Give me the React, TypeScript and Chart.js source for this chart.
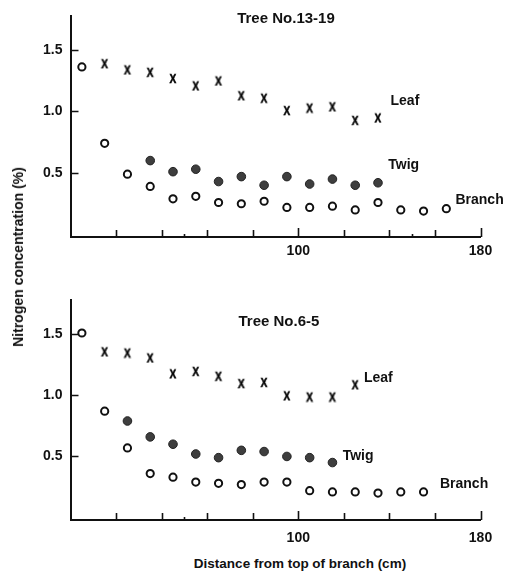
import React, { useEffect, useRef } from 'react';
import { Chart, registerables } from 'chart.js';

Chart.register(...registerables);

const FONT = '"Liberation Sans", Arial, Helvetica, sans-serif';
Chart.defaults.font.family = FONT;

// ---------- Data: Tree No.13-19 (top) ----------
const topBranchX = [5, 15, 25, 35, 45, 55, 65, 75, 85, 95, 105, 115, 125, 135, 145, 155, 165];
const topBranchY = [1.36, 0.74, 0.49, 0.39, 0.29, 0.31, 0.26, 0.25, 0.27, 0.22, 0.22, 0.23, 0.20, 0.26, 0.20, 0.19, 0.21];
const topLeafX = [15, 25, 35, 45, 55, 65, 75, 85, 95, 105, 115, 125, 135];
const topLeafY = [1.39, 1.34, 1.32, 1.27, 1.21, 1.25, 1.13, 1.11, 1.01, 1.03, 1.04, 0.93, 0.95];
const topTwigX = [35, 45, 55, 65, 75, 85, 95, 105, 115, 125, 135];
const topTwigY = [0.60, 0.51, 0.53, 0.43, 0.47, 0.40, 0.47, 0.41, 0.45, 0.40, 0.42];

// ---------- Data: Tree No.6-5 (bottom) ----------
const botBranchX = [5, 15, 25, 35, 45, 55, 65, 75, 85, 95, 105, 115, 125, 135, 145, 155];
const botBranchY = [1.51, 0.87, 0.57, 0.36, 0.33, 0.29, 0.28, 0.27, 0.29, 0.29, 0.22, 0.21, 0.21, 0.20, 0.21, 0.21];
const botLeafX = [15, 25, 35, 45, 55, 65, 75, 85, 95, 105, 115, 125];
const botLeafY = [1.36, 1.35, 1.31, 1.18, 1.20, 1.16, 1.10, 1.11, 1.00, 0.99, 0.99, 1.09];
const botTwigX = [25, 35, 45, 55, 65, 75, 85, 95, 105, 115];
const botTwigY = [0.79, 0.66, 0.60, 0.52, 0.49, 0.55, 0.54, 0.50, 0.49, 0.45];

// ---------- Axis ticks ----------
const xTickLabels = [100, 180];
const xMajorTicks = [20, 40, 60, 80, 100, 120, 140, 160, 180];
const topMinorTicks = [50, 150];
const botMinorTicks = [50];
const yTickValues = [0.5, 1.0, 1.5];

// ---------- Texts ----------
const topTitle = 'Tree No.13-19';
const botTitle = 'Tree No.6-5';
const yAxisTitle = 'Nitrogen concentration (%)';
const xAxisTitle = 'Distance from top of branch (cm)';

const INK = '#111';

function zip(xs: number[], ys: number[]) {
  return xs.map((x, i) => ({ x, y: ys[i] }));
}

function makeXGlyph(): HTMLCanvasElement {
  const c = document.createElement('canvas');
  c.width = 10;
  c.height = 12;
  const ctx = c.getContext('2d')!;
  ctx.fillStyle = '#000';
  ctx.strokeStyle = '#000';
  ctx.lineWidth = 0.5;
  ctx.font = `bold 13px ${FONT}`;
  ctx.textAlign = 'center';
  ctx.textBaseline = 'alphabetic';
  ctx.setTransform(0.78, 0, 0, 1, 5, 0);
  ctx.fillText('X', 0, 11);
  ctx.strokeText('X', 0, 11);
  return c;
}

const tickPlugin = {
  id: 'inTicks',
  afterDraw(chart: any, _a: any, opts: any) {
    const { ctx, chartArea } = chart;
    const xs = chart.scales.x;
    const ys = chart.scales.y;
    ctx.save();
    ctx.strokeStyle = INK;
    ctx.lineWidth = 1.6;
    ctx.beginPath();
    const bottom = chartArea.bottom;
    (opts.major || []).forEach((v: number) => {
      const px = Math.round(xs.getPixelForValue(v)) + 0.5;
      const len = v === 100 || v === 180 ? 9 : 7;
      ctx.moveTo(px, bottom);
      ctx.lineTo(px, bottom - len);
    });
    (opts.minor || []).forEach((v: number) => {
      const px = Math.round(xs.getPixelForValue(v)) + 0.5;
      ctx.moveTo(px, bottom);
      ctx.lineTo(px, bottom - 3);
    });
    const left = chartArea.left;
    yTickValues.forEach((v) => {
      const py = Math.round(ys.getPixelForValue(v)) + 0.5;
      ctx.moveTo(left, py);
      ctx.lineTo(left + 8, py);
    });
    ctx.stroke();
    ctx.restore();
  },
};

const annotPlugin = {
  id: 'annot',
  afterDraw(chart: any, _a: any, opts: any) {
    const { ctx } = chart;
    const xs = chart.scales.x;
    const ys = chart.scales.y;
    ctx.save();
    ctx.fillStyle = INK;
    (opts.items || []).forEach((it: any) => {
      ctx.font = `bold ${it.size || 14}px ${FONT}`;
      ctx.textAlign = it.align || 'left';
      ctx.textBaseline = 'middle';
      ctx.fillText(it.text, xs.getPixelForValue(it.x), ys.getPixelForValue(it.y));
    });
    ctx.restore();
  },
};

type PanelProps = {
  branchX: number[];
  branchY: number[];
  leafX: number[];
  leafY: number[];
  twigX: number[];
  twigY: number[];
  minor: number[];
  items: any[];
  height: number;
  padTop: number;
  xAxisH: number;
  yMax: number;
  labelPad: number;
  top: number;
};

function Panel(p: PanelProps) {
  const ref = useRef<HTMLCanvasElement | null>(null);
  useEffect(() => {
    if (!ref.current) return;
    const glyph = makeXGlyph();
    const chart = new Chart(ref.current, {
      type: 'scatter',
      data: {
        datasets: [
          {
            label: 'Branch',
            data: zip(p.branchX, p.branchY),
            pointStyle: 'circle',
            pointRadius: 3.6,
            pointBorderWidth: 2,
            pointBorderColor: INK,
            pointBackgroundColor: '#fff',
            showLine: false,
          },
          {
            label: 'Twig',
            data: zip(p.twigX, p.twigY),
            pointStyle: 'circle',
            pointRadius: 4.3,
            pointBorderWidth: 1,
            pointBorderColor: '#222',
            pointBackgroundColor: '#3e3e3e',
            showLine: false,
          },
          {
            label: 'Leaf',
            data: zip(p.leafX, p.leafY),
            pointStyle: glyph as any,
            pointRadius: 5,
            showLine: false,
          },
        ],
      },
      options: {
        responsive: false,
        maintainAspectRatio: false,
        animation: false,
        events: [],
        layout: { padding: { left: 0, right: 32.5, top: p.padTop, bottom: 0 } },
        plugins: {
          legend: { display: false },
          tooltip: { enabled: false },
          inTicks: { major: xMajorTicks, minor: p.minor },
          annot: { items: p.items },
        } as any,
        scales: {
          x: {
            type: 'linear',
            min: 0,
            max: 180,
            grid: { display: false, drawTicks: false },
            border: { display: true, color: INK, width: 2 },
            ticks: {
              padding: p.labelPad,
              color: INK,
              font: { size: 14, weight: 'bold' },
              autoSkip: false,
              maxRotation: 0,
            },
            afterBuildTicks: (s: any) => {
              s.ticks = xTickLabels.map((v) => ({ value: v }));
            },
            afterFit: (s: any) => {
              s.height = p.xAxisH;
            },
          },
          y: {
            type: 'linear',
            min: -0.02,
            max: p.yMax,
            grid: { display: false, drawTicks: false },
            border: { display: true, color: INK, width: 2 },
            ticks: {
              padding: 8,
              color: INK,
              font: { size: 14, weight: 'bold' },
              callback: (v: any) => Number(v).toFixed(1),
            },
            afterBuildTicks: (s: any) => {
              s.ticks = yTickValues.map((v) => ({ value: v }));
            },
            afterFit: (s: any) => {
              s.width = 70.5;
            },
          },
        },
      } as any,
      plugins: [tickPlugin, annotPlugin],
    });
    return () => chart.destroy();
  }, []);
  return (
    <canvas
      ref={ref}
      width={513}
      height={p.height}
      style={{ position: 'absolute', left: 0, top: p.top, width: 513, height: p.height, display: 'block' }}
    />
  );
}

export default function App() {
  const topItems = [
    { text: topTitle, x: 94.6, y: 1.75, align: 'center', size: 15 },
    { text: 'Leaf', x: 140.5, y: 1.08 },
    { text: 'Twig', x: 139.5, y: 0.56 },
    { text: 'Branch', x: 169, y: 0.28 },
  ];
  const botItems = [
    { text: botTitle, x: 91.5, y: 1.6, align: 'center', size: 15 },
    { text: 'Leaf', x: 128.8, y: 1.14 },
    { text: 'Twig', x: 119.5, y: 0.5 },
    { text: 'Branch', x: 162.2, y: 0.27 },
  ];
  return (
    <div style={{ position: 'fixed', left: 0, top: 0, width: 513, height: 576, background: '#fff', overflow: 'hidden' }}>
      <Panel
        branchX={topBranchX}
        branchY={topBranchY}
        leafX={topLeafX}
        leafY={topLeafY}
        twigX={topTwigX}
        twigY={topTwigY}
        minor={topMinorTicks}
        items={topItems}
        height={275}
        padTop={15}
        xAxisH={38}
        yMax={1.77}
        labelPad={6}
        top={0}
      />
      <Panel
        branchX={botBranchX}
        branchY={botBranchY}
        leafX={botLeafX}
        leafY={botLeafY}
        twigX={botTwigX}
        twigY={botTwigY}
        minor={botMinorTicks}
        items={botItems}
        height={265}
        padTop={20}
        xAxisH={25}
        yMax={1.78}
        labelPad={10}
        top={280}
      />
      <div
        style={{
          position: 'absolute',
          left: 18,
          top: 257,
          transform: 'translate(-50%, -50%) rotate(-90deg)',
          whiteSpace: 'nowrap',
          font: `bold 14px ${FONT}`,
          color: INK,
        }}
      >
        {yAxisTitle}
      </div>
      <div
        style={{
          position: 'absolute',
          left: 300,
          top: 563,
          transform: 'translate(-50%, -50%)',
          whiteSpace: 'nowrap',
          font: `bold 13.5px ${FONT}`,
          color: INK,
        }}
      >
        {xAxisTitle}
      </div>
    </div>
  );
}
